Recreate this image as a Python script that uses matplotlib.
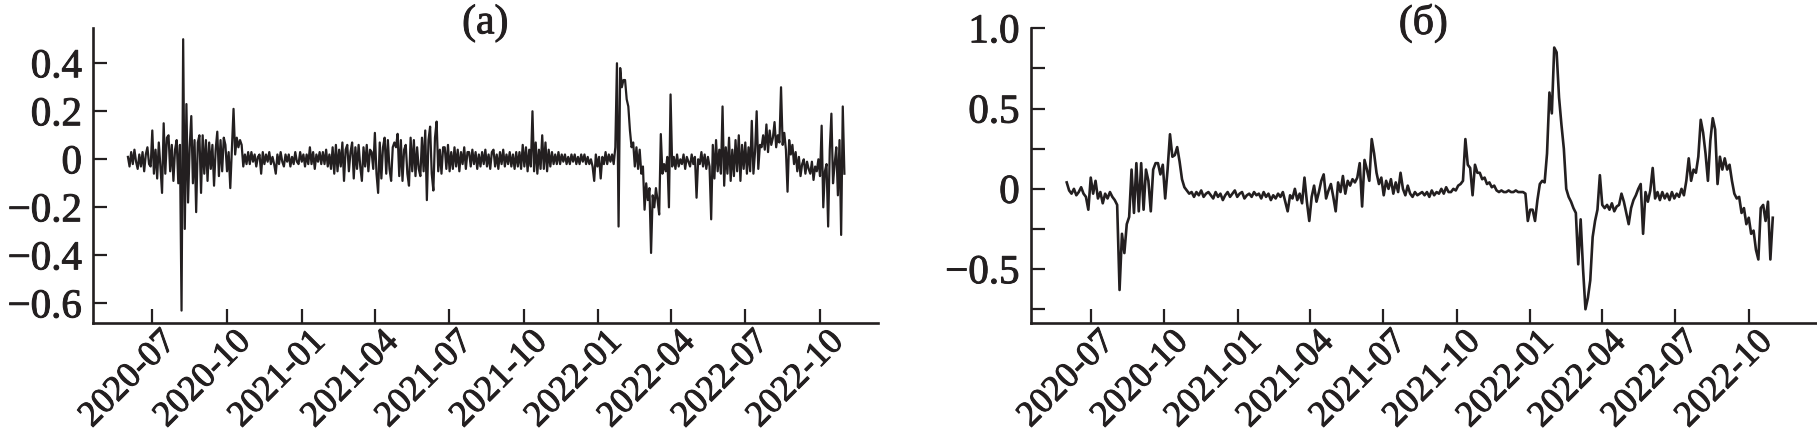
import numpy as np
import pandas as pd
import matplotlib
matplotlib.use("Agg")
import matplotlib.pyplot as plt
import matplotlib.dates as mdates
import matplotlib.transforms as mtrans
import matplotlib.patheffects as pe
from matplotlib.ticker import FixedLocator, FuncFormatter

plt.rcParams['font.family'] = ['Liberation Serif', 'DejaVu Serif']

# ---------------- data ----------------
# panel (а): sampled every 2 days from 2020-06-01
dates_a = pd.date_range('2020-06-01', periods=442, freq='2D')
series_a = [
    0.01, -0.03, 0.03, -0.02, 0.04, -0.01, -0.04, 0.02, -0.03, 0.03, -0.05, 0.02, 0.05, -0.02, -0.03,
    0.12, -0.06, 0.04, -0.08, 0.07, -0.03, -0.14, 0.15, -0.06, 0.09, 0.10, -0.05, 0.06, -0.09, 0.04,
    0.08, -0.10, 0.06, -0.63, 0.50, -0.29, 0.23, -0.18, 0.05, 0.18, -0.10, 0.08, -0.22, 0.07, 0.10,
    -0.14, 0.10, -0.06, 0.08, -0.09, 0.07, -0.04, 0.06, -0.11, 0.04, 0.115, -0.07, 0.08, -0.05, 0.09,
    0.06, -0.05, 0.03, -0.12, 0.04, 0.21, 0.02, 0.09, 0.05, 0.08, 0.06, -0.03, 0.02, -0.02, 0.03,
    -0.02, 0.03, -0.01, 0.02, -0.03, 0.01, 0.02, -0.06, 0.03, -0.02, 0.02, -0.01, 0.03, -0.02, 0.01,
    -0.02, -0.06, 0.02, -0.02, 0.03, -0.01, -0.03, 0.02, -0.01, 0.02, -0.03, 0.01, -0.02, 0.03, -0.01,
    -0.02, 0.03, -0.01, 0.02, -0.03, 0.02, -0.02, 0.05, -0.02, 0.03, -0.04, 0.02, -0.01, 0.03, -0.02,
    0.03, -0.02, 0.04, -0.03, 0.02, -0.04, 0.05, -0.06, 0.06, -0.05, 0.04, -0.03, 0.07, -0.09, 0.04,
    0.06, -0.05, 0.03, 0.07, -0.08, 0.05, -0.04, 0.06, -0.03, -0.09, 0.05, -0.03, 0.06, -0.05, 0.04,
    0.03, -0.04, 0.11, -0.06, -0.14, 0.07, -0.08, 0.05, 0.09, -0.06, 0.08, -0.04, -0.09, 0.05, 0.07,
    0.05, 0.106, -0.07, 0.08, -0.09, 0.04, 0.06, -0.06, -0.11, 0.09, -0.05, 0.08, -0.07, 0.05, -0.04,
    -0.07, 0.09, -0.05, 0.12, -0.17, 0.08, 0.136, -0.06, -0.13, 0.09, 0.157, -0.05, 0.04, -0.06, 0.05,
    0.05, -0.04, 0.06, -0.05, 0.03, -0.04, 0.05, -0.03, 0.04, -0.05, 0.03, -0.02, 0.05, -0.04, 0.03,
    0.03, -0.03, 0.04, -0.02, 0.03, -0.04, 0.02, -0.03, 0.03, -0.02, 0.04, -0.03, 0.02, -0.04, 0.03,
    0.04, -0.03, 0.02, -0.04, 0.03, -0.02, 0.04, -0.03, 0.02, -0.02, 0.03, -0.03, 0.02, -0.04, 0.03,
    -0.03, 0.03, -0.04, 0.06, -0.03, 0.05, -0.05, 0.04, -0.03, 0.20, -0.05, 0.07, -0.06, 0.04, -0.04,
    0.10, -0.04, 0.07, -0.05, 0.04, -0.03, 0.03, -0.02, 0.02, -0.02, 0.03, -0.02, 0.02, -0.01, 0.02,
    -0.02, 0.01, -0.02, 0.02, -0.01, 0.02, -0.02, 0.01, -0.02, 0.02, -0.01, 0.02, -0.02, 0.01, -0.02,
    0.00, -0.03, -0.09, 0.02, -0.03, 0.01, -0.08, 0.01, -0.02, 0.03, -0.02, 0.02, -0.01, 0.02, -0.02,
    0.05, 0.40, -0.28, 0.38, 0.30, 0.33, 0.33, 0.25, 0.22, 0.12, 0.05, 0.07, -0.03, 0.05, -0.04,
    0.04, -0.06, -0.03, -0.21, -0.10, -0.17, -0.12, -0.39, -0.15, -0.20, -0.12, -0.17, -0.23, 0.105, -0.06,
    -0.02, -0.05, 0.01, -0.20, 0.27, -0.03, 0.01, -0.04, 0.02, -0.03, 0.00, -0.02, 0.02, -0.04, 0.01,
    -0.01, -0.03, 0.02, -0.02, 0.01, -0.16, 0.00, -0.02, 0.03, -0.03, 0.02, -0.04, 0.01, -0.03, -0.25,
    0.06, -0.08, 0.08, -0.05, 0.04, -0.06, 0.22, -0.11, 0.05, -0.06, 0.09, -0.09, 0.04, -0.07, 0.08,
    -0.05, 0.10, -0.09, 0.06, -0.04, 0.07, -0.06, 0.05, -0.05, 0.16, -0.06, 0.03, 0.20, -0.04, 0.06,
    0.05, 0.10, 0.04, 0.145, 0.03, 0.12, 0.06, 0.09, 0.155, 0.05, 0.10, 0.07, 0.30, 0.06, 0.11,
    0.04, -0.135, 0.08, 0.02, 0.06, -0.02, 0.03, -0.05, 0.01, -0.07, -0.02, 0.00, -0.06, -0.01, -0.04,
    -0.06, -0.01, -0.086, -0.03, -0.05, 0.00, -0.07, 0.14, -0.20, -0.05, -0.02, -0.28, 0.04, 0.19, -0.10,
    -0.02, 0.05, -0.15, 0.08, -0.315, 0.22, -0.06,
]

# panel (б): sampled every 3 days from 2020-06-01
dates_b = pd.date_range('2020-06-01', periods=295, freq='3D')
series_b = [
    0.04, -0.01, -0.03, 0.00, -0.04, -0.02, 0.01, -0.03, -0.05, -0.13,
    0.07, -0.03, 0.05, -0.06, -0.02, -0.09, -0.03, -0.06, -0.02, -0.05,
    -0.07, -0.10, -0.63, -0.28, -0.40, -0.22, -0.175, 0.12, -0.15, 0.16,
    -0.14, 0.16, -0.13, 0.12, 0.05, -0.14, 0.12, 0.16, 0.16, 0.09,
    0.15, -0.06, 0.12, 0.34, 0.20, 0.21, 0.26, 0.17, 0.06, 0.01,
    -0.01, -0.03, -0.02, -0.05, -0.02, -0.04, -0.01, -0.05, -0.03, -0.02,
    -0.04, -0.06, -0.02, -0.05, -0.03, -0.07, -0.04, -0.02, -0.05, -0.03,
    -0.01, -0.05, -0.03, -0.02, -0.06, -0.04, -0.03, -0.05, -0.02, -0.04,
    -0.03, -0.06, -0.02, -0.05, -0.03, -0.07, -0.04, -0.06, -0.03, -0.05,
    -0.02, -0.08, -0.14, -0.04, -0.06, 0.00, -0.07, -0.03, -0.09, 0.07,
    -0.08, -0.20, -0.05, 0.02, -0.08, -0.02, 0.05, 0.09, -0.06, -0.01,
    0.03, -0.05, -0.14, 0.04, -0.02, 0.08, -0.03, 0.05, 0.02, 0.06,
    0.04, 0.07, 0.16, -0.11, 0.18, 0.12, 0.05, 0.31, 0.22, 0.10,
    0.03, 0.07, -0.04, 0.05, 0.00, 0.06, -0.03, 0.04, -0.02, 0.10,
    0.00, -0.04, 0.02, -0.03, -0.05, -0.02, -0.04, -0.03, -0.02, -0.04,
    -0.02, -0.05, -0.01, -0.04, -0.02, -0.03, 0.00, -0.03, 0.01, -0.02,
    -0.02, 0.00, -0.01, 0.02, 0.03, 0.05, 0.31, 0.15, 0.13, -0.04,
    0.15, 0.10, 0.10, 0.06, 0.07, 0.03, 0.04, 0.01, 0.02, -0.01,
    -0.02, -0.01, -0.02, -0.02, -0.01, -0.02, -0.02, -0.01, -0.02, -0.02,
    -0.02, -0.03, -0.20, -0.13, -0.13, -0.20, -0.07, 0.03, 0.05, 0.04,
    0.22, 0.60, 0.47, 0.88, 0.85, 0.57, 0.40, 0.25, 0.00, -0.05,
    -0.08, -0.12, -0.15, -0.47, -0.19, -0.50, -0.75, -0.68, -0.57, -0.30,
    -0.20, -0.13, 0.085, -0.10, -0.12, -0.10, -0.13, -0.09, -0.14, -0.11,
    -0.10, -0.03, -0.08, -0.15, -0.22, -0.12, -0.07, -0.04, 0.00, 0.03,
    -0.28, -0.02, -0.08, -0.01, 0.13, -0.06, -0.02, -0.07, -0.02, -0.06,
    -0.03, -0.07, -0.02, -0.06, -0.03, -0.05, 0.00, -0.04, 0.05, 0.19,
    0.05, 0.12, 0.10, 0.20, 0.43, 0.35, 0.22, 0.05, 0.30, 0.44,
    0.37, 0.03, 0.20, 0.12, 0.19, 0.12, 0.15, 0.05, -0.03, -0.06,
    -0.05, -0.15, -0.12, -0.22, -0.18, -0.28, -0.26, -0.38, -0.44, -0.12,
    -0.10, -0.20, -0.08, -0.44, -0.18,
]

titles = ['(а)', '(б)']
yticks_a = [-0.6, -0.4, -0.2, 0.0, 0.2, 0.4]
yticks_b = [-0.75, -0.5, -0.25, 0.0, 0.25, 0.5, 0.75, 1.0]
ylabeled_b = [-0.5, 0.0, 0.5, 1.0]

# ---------------- figure ----------------
W, H = 1817, 438
fig = plt.figure(figsize=(W / 100, H / 100), dpi=100)
ink = '#231f20'
thick = [pe.withStroke(linewidth=0.7, foreground=ink)]


def px_axes(l, t, r, b):
    return fig.add_axes([l / W, 1 - b / H, (r - l) / W, (b - t) / H])


ax1 = px_axes(93, 27.7, 877.7, 323.3)
ax2 = px_axes(1030.7, 28.3, 1816, 323.3)


def fmt_a(v, pos):
    if abs(v) < 1e-9:
        return '0'
    return f'{v:.1f}'.replace('-', '\u2212')


def fmt_b(v, pos):
    if not any(abs(v - t) < 1e-9 for t in ylabeled_b):
        return ''
    if abs(v) < 1e-9:
        return '0'
    return f'{v:.1f}'.replace('-', '\u2212')


setups = [
    (ax1, dates_a, series_a, 1.6, (-0.683, 0.548), yticks_a, fmt_a,
     ('2020-04-19', '2022-12-11')),
    (ax2, dates_b, series_b, 1.9, (-0.8375, 1.0), yticks_b, fmt_b,
     ('2020-04-17', '2022-12-24')),
]

for i, (ax, dts, ser, lw, ylim, yt, fmt, xl) in enumerate(setups):
    ax.plot(dts, ser, color=ink, lw=lw)
    ax.set_ylim(*ylim)
    ax.set_xlim(pd.Timestamp(xl[0]), pd.Timestamp(xl[1]))
    ax.yaxis.set_major_locator(FixedLocator(yt))
    ax.yaxis.set_major_formatter(FuncFormatter(fmt))
    ax.xaxis.set_major_locator(mdates.MonthLocator(bymonth=[1, 4, 7, 10]))
    ax.xaxis.set_major_formatter(mdates.DateFormatter('%Y-%m'))
    for s in ['top', 'right']:
        ax.spines[s].set_visible(False)
    for s in ['left', 'bottom']:
        ax.spines[s].set_linewidth(1.9)
        ax.spines[s].set_color(ink)
    ax.tick_params(axis='both', direction='in', length=10, width=1.6,
                   color=ink, labelcolor=ink)
    ax.tick_params(axis='y', labelsize=29.5, pad=8)
    ax.tick_params(axis='x', labelsize=26, pad=1.5, labelrotation=45)
    ax.set_facecolor('none')
    ax.text(0.5, 0.981, titles[i], transform=ax.transAxes, ha='center',
            va='baseline', fontsize=30, color=ink, path_effects=thick)

fig.canvas.draw()
offset = mtrans.ScaledTranslation(0.07, 0, fig.dpi_scale_trans)
for ax in (ax1, ax2):
    for lab in ax.get_xticklabels():
        lab.set_horizontalalignment('right')
        lab.set_verticalalignment('top')
        lab.set_rotation_mode('anchor')
        lab.set_transform(lab.get_transform() + offset)
        lab.set_path_effects(thick)
    for lab in ax.get_yticklabels():
        lab.set_path_effects(thick)

fig.savefig('out.png', dpi=100)
